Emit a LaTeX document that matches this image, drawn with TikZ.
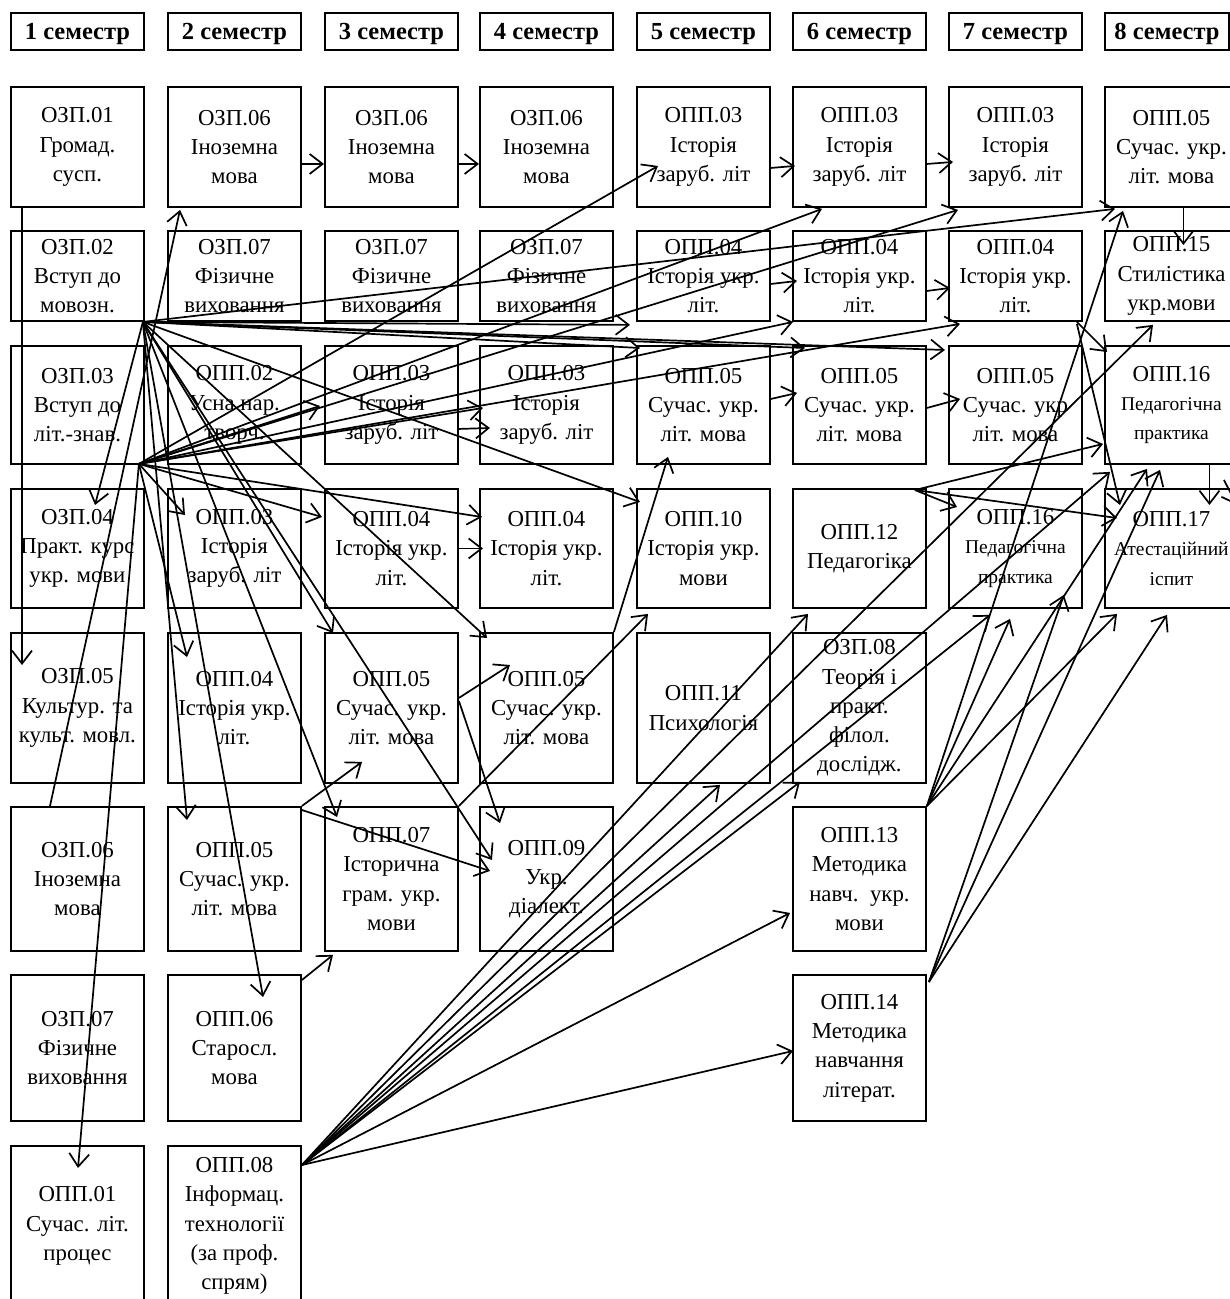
\documentclass[tikz,border=0pt]{standalone}
\usepackage{fontspec}
\setmainfont{Liberation Serif}
\usetikzlibrary{arrows.meta}
\newcommand\smtxt{\fontsize{19.5}{25}\selectfont}
\begin{document}
\begin{tikzpicture}[x=1pt,y=-1pt,
  box/.style={draw, line width=1.9pt, inner sep=0pt, align=center, anchor=north west,
    minimum width=133pt, font=\fontsize{22.8}{29.3}\selectfont},
  hdr/.style={draw, line width=1.9pt, inner sep=0pt, anchor=north west, text depth=0pt,
    minimum width=133pt, minimum height=37pt, font=\fontsize{24.5}{28}\selectfont\bfseries},
  arr/.style={line width=1.7pt, -{Straight Barb[length=13pt,width=20pt]}},
]
\useasboundingbox (0,0) rectangle (1230,1299);
\fill[white] (0,0) rectangle (1230,1299);
\clip (0,0) rectangle (1230,1299);

% headers
\node[hdr] (s1) at (10,12) {1 семестр};
\node[hdr] (s2) at (167,12) {2 семестр};
\node[hdr] (s3) at (324,12) {3 семестр};
\node[hdr] (s4) at (479,12) {4 семестр};
\node[hdr] (s5) at (636,12) {5 семестр};
\node[hdr] (s6) at (792,12) {6 семестр};
\node[hdr] (s7) at (948,12) {7 семестр};
\node[hdr, minimum width=124pt] (s8) at (1104,12) {8 семестр};

% column 1
\node[box, minimum height=120pt] (c1r1) at (10,86) {ОЗП.01\\Громад.\\сусп.};
\node[box, minimum height=90pt]  (c1r2) at (10,230) {ОЗП.02\\Вступ до\\мовозн.};
\node[box, minimum height=118pt] (c1r3) at (10,345) {ОЗП.03\\Вступ до\\літ.-знав.};
\node[box, minimum height=119pt] (c1r4) at (10,488) {ОЗП.04\\Практ. курс\\укр. мови};
\node[box, minimum height=150pt] (c1r5) at (10,632) {ОЗП.05\\Культур. та\\культ. мовл.};
\node[box, minimum height=144pt] (c1r6) at (10,806) {ОЗП.06\\Іноземна\\мова};
\node[box, minimum height=146pt] (c1r7) at (10,974) {ОЗП.07\\Фізичне\\виховання};
\node[box, minimum height=160pt] (c1r8) at (10,1145) {ОПП.01\\Сучас. літ.\\процес};

% column 2
\node[box, minimum height=120pt] (c2r1) at (167,86) {ОЗП.06\\Іноземна\\мова};
\node[box, minimum height=90pt]  (c2r2) at (167,230) {ОЗП.07\\Фізичне\\виховання};
\node[box, minimum height=118pt] (c2r3) at (167,345) {ОПП.02\\Усна нар.\\творч.};
\node[box, minimum height=119pt] (c2r4) at (167,488) {ОПП.03\\Історія\\заруб. літ};
\node[box, minimum height=150pt] (c2r5) at (167,632) {ОПП.04\\Історія укр.\\літ.};
\node[box, minimum height=144pt] (c2r6) at (167,806) {ОПП.05\\Сучас. укр.\\літ. мова};
\node[box, minimum height=146pt] (c2r7) at (167,974) {ОПП.06\\Старосл.\\мова};
\node[box, minimum height=160pt] (c2r8) at (167,1145) {ОПП.08\\Інформац.\\технології\\(за проф.\\спрям)};

% column 3
\node[box, minimum height=120pt] (c3r1) at (324,86) {ОЗП.06\\Іноземна\\мова};
\node[box, minimum height=90pt]  (c3r2) at (324,230) {ОЗП.07\\Фізичне\\виховання};
\node[box, minimum height=118pt] (c3r3) at (324,345) {ОПП.03\\Історія\\заруб. літ};
\node[box, minimum height=119pt] (c3r4) at (324,488) {ОПП.04\\Історія укр.\\літ.};
\node[box, minimum height=150pt] (c3r5) at (324,632) {ОПП.05\\Сучас. укр.\\літ. мова};
\node[box, minimum height=144pt] (c3r6) at (324,806) {ОПП.07\\Історична\\грам. укр.\\мови};

% column 4
\node[box, minimum height=120pt] (c4r1) at (479,86) {ОЗП.06\\Іноземна\\мова};
\node[box, minimum height=90pt]  (c4r2) at (479,230) {ОЗП.07\\Фізичне\\виховання};
\node[box, minimum height=118pt] (c4r3) at (479,345) {ОПП.03\\Історія\\заруб. літ};
\node[box, minimum height=119pt] (c4r4) at (479,488) {ОПП.04\\Історія укр.\\літ.};
\node[box, minimum height=150pt] (c4r5) at (479,632) {ОПП.05\\Сучас. укр.\\літ. мова};
\node[box, minimum height=144pt] (c4r6) at (479,806) {ОПП.09\\Укр.\\діалект.};

% column 5
\node[box, minimum height=120pt] (c5r1) at (636,86) {ОПП.03\\Історія\\заруб. літ};
\node[box, minimum height=90pt]  (c5r2) at (636,230) {ОПП.04\\Історія укр.\\літ.};
\node[box, minimum height=118pt] (c5r3) at (636,345) {ОПП.05\\Сучас. укр.\\літ. мова};
\node[box, minimum height=119pt] (c5r4) at (636,488) {ОПП.10\\Історія укр.\\мови};
\node[box, minimum height=150pt] (c5r5) at (636,632) {ОПП.11\\Психологія};

% column 6
\node[box, minimum height=120pt] (c6r1) at (792,86) {ОПП.03\\Історія\\заруб. літ};
\node[box, minimum height=90pt]  (c6r2) at (792,230) {ОПП.04\\Історія укр.\\літ.};
\node[box, minimum height=118pt] (c6r3) at (792,345) {ОПП.05\\Сучас. укр.\\літ. мова};
\node[box, minimum height=119pt] (c6r4) at (792,488) {ОПП.12\\Педагогіка};
\node[box, minimum height=150pt] (c6r5) at (792,632) {ОЗП.08\\Теорія і\\практ.\\філол.\\дослідж.};
\node[box, minimum height=144pt] (c6r6) at (792,806) {ОПП.13\\Методика\\навч.\ \ укр.\\мови};
\node[box, minimum height=146pt] (c6r7) at (792,974) {ОПП.14\\Методика\\навчання\\літерат.};

% column 7
\node[box, minimum height=120pt] (c7r1) at (948,86) {ОПП.03\\Історія\\заруб. літ};
\node[box, minimum height=90pt]  (c7r2) at (948,230) {ОПП.04\\Історія укр.\\літ.};
\node[box, minimum height=118pt] (c7r3) at (948,345) {ОПП.05\\Сучас. укр\\літ. мова};
\node[box, minimum height=119pt] (c7r4) at (948,488) {ОПП.16\\{\smtxt Педагогічна}\\{\smtxt практика}};

% column 8
\node[box, minimum height=120pt] (c8r1) at (1104,86) {ОПП.05\\Сучас. укр.\\літ. мова};
\node[box, minimum height=90pt]  (c8r2) at (1104,230) {ОПП.15\\Стилістика\\укр.мови};
\node[box, minimum height=118pt] (c8r3) at (1104,345) {ОПП.16\\{\smtxt Педагогічна}\\{\smtxt практика}};
\node[box, minimum height=119pt] (c8r4) at (1104,488) {ОПП.17\\{\smtxt Атестаційний}\\{\smtxt іспит}};

% hubs
\coordinate (hA) at ([shift={(-2,0)}]c1r2.south east);
\coordinate (hB) at ([shift={(-6,-1)}]c1r3.south east);
\coordinate (hF) at ([shift={(0,20)}]c2r8.north east);
\coordinate (h13) at (c6r6.north east);
\coordinate (h14) at ([shift={(2,8)}]c6r7.north east);
\coordinate (h12) at ([shift={(-12,2)}]c6r4.north east);

% simple connectors
\draw[arr] ([shift={(0,17)}]c2r1.east) -- ([shift={(0,17)}]c3r1.west);
\draw[arr] ([shift={(0,17)}]c3r1.east) -- ([shift={(0,17)}]c4r1.west);
\draw[arr] ([shift={(0,21)}]c5r1.east) -- ([shift={(3,19)}]c6r1.west);
\draw[arr] ([shift={(0,17)}]c6r1.east) -- ([shift={(5,15)}]c7r1.west);
\draw[arr] ([shift={(0,8)}]c5r2.east) -- ([shift={(5,5)}]c6r2.west);
\draw[arr] ([shift={(0,15)}]c6r2.east) -- ([shift={(2,12)}]c7r2.west);
\draw[arr] ([shift={(0,-6)}]c5r3.east) -- ([shift={(5,-12)}]c6r3.west);
\draw[arr] ([shift={(0,3)}]c6r3.east) -- ([shift={(12,-6)}]c7r3.west);
\draw[arr] (c3r4.east) -- ([shift={(4,0)}]c4r4.west);
\draw[arr] ([shift={(0,24)}]c3r3.east) -- ([shift={(11,23)}]c4r3.west);
\draw[arr] ([shift={(12,0)}]c8r1.south) -- ([shift={(12,15)}]c8r2.north);
\draw[arr] ([shift={(38,0)}]c8r3.south) -- ([shift={(38,17)}]c8r4.north);
\draw[arr] ([shift={(12,0)}]c1r1.south west) -- ([shift={(12,33)}]c1r5.north west);
\draw[arr] ([shift={(40,0)}]c1r6.north west) -- ([shift={(13,2)}]c2r1.south west);
\draw[arr] (c2r6.north east) -- ([shift={(38,-22)}]c3r5.south west);
\draw[arr] ([shift={(0,4)}]c2r6.north east) -- ([shift={(11,-8)}]c4r6.west);
\draw[arr] ([shift={(0,-10)}]c3r5.east) -- ([shift={(31,33)}]c4r5.north west);
\draw[arr] ([shift={(0,-7)}]c3r5.east) -- ([shift={(21,17)}]c4r6.north west);
\draw[arr] (c4r5.north east) -- ([shift={(32,-8)}]c5r3.south west);
\draw[arr] (c3r6.north east) -- ([shift={(12,5)}]c5r4.south west);
\draw[arr] ([shift={(0,6)}]c2r7.north east) -- ([shift={(9,3)}]c3r6.south west);
\draw[arr] ([shift={(-6,0)}]c7r2.south east) -- ([shift={(3,7)}]c8r3.north west);
\draw[arr] ([shift={(-6,2)}]c7r2.south east) -- ([shift={(16,17)}]c8r4.north west);
\draw[arr] (h12) -- ([shift={(-1,39)}]c8r3.west);
\draw[arr] (h12) -- ([shift={(9,19)}]c7r4.north west);
\draw[arr] (h12) -- ([shift={(13,30)}]c8r4.north west);
\draw[arr] ([shift={(-15,15)}]c8r3.south east) -- ([shift={(-2,17)}]c8r4.north east);

% hub A (ОЗП.02)
\foreach \n/\dx/\dy in {c8r1.south west/11/1, c5r2.south west/-6/3, c5r3.north west/4/3,
  c6r3.north west/13/3, c7r3.north west/-3/5, c5r4.north west/4/14, c4r5.north west/8/6,
  c4r6.north west/13/54, c2r7.north west/96/23, c3r6.north west/13/11, c2r6.north west/20/14,
  c3r5.north west/9/1, c1r4.north west/85/17}
  \draw[arr] (hA) -- ([shift={(\dx,\dy)}]\n);

% hub B (ОЗП.03)
\foreach \n/\dx/\dy in {c5r1.west/22/19, c6r1.south west/30/1, c7r1.south west/10/2,
  c6r2.south west/1/0, c7r2.south west/12/2, c3r3.west/-4/1, c4r3.west/4/3,
  c2r4.north west/18/27, c3r4.north west/-2/29, c4r4.north west/3/29,
  c2r5.north west/20/25, c1r8.north west/68/23}
  \draw[arr] (hB) -- ([shift={(\dx,\dy)}]\n);

% fan from ОПП.08
\foreach \n/\dx/\dy in {c6r7.west/1/3, c6r6.west/-2/34, c5r5.south west/84/1,
  c6r5.south west/8/-2, c6r4.south west/16/5, c7r4.south west/42/6,
  c8r3.south west/6/7, c8r2.south west/49/3}
  \draw[arr] (hF) -- ([shift={(\dx,\dy)}]\n);

% from ОПП.13
\foreach \n/\dx/\dy in {c8r1.south west/19/3, c7r4.south west/62/10,
  c8r4.south west/13/5, c8r3.south west/43/4}
  \draw[arr] (h13) -- ([shift={(\dx,\dy)}]\n);

% from ОПП.14
\foreach \n/\dx/\dy in {c7r4.south east/-19/-14, c8r3.south west/56/5, c8r4.south west/63/6}
  \draw[arr] (h14) -- ([shift={(\dx,\dy)}]\n);
\end{tikzpicture}
\end{document}
